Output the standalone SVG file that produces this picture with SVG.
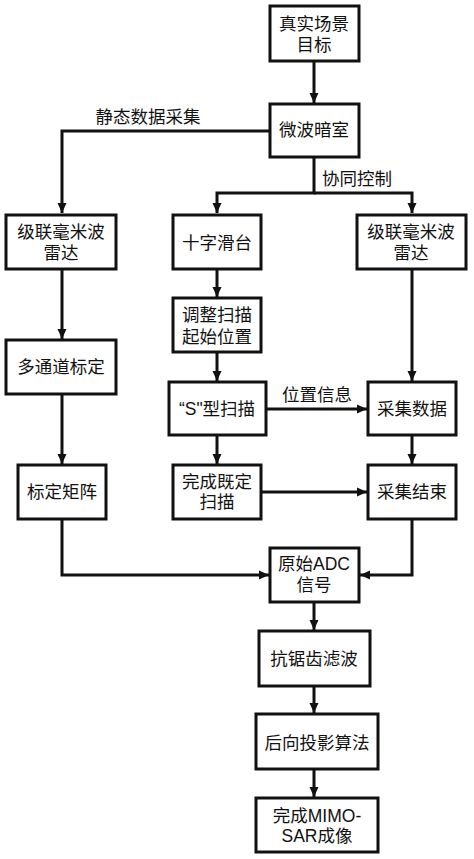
<svg xmlns="http://www.w3.org/2000/svg" width="474" height="859" viewBox="0 0 474 859">
<style>
.box{fill:#fff;stroke:#111;stroke-width:3}
.t{font-family:"Liberation Sans","Noto Sans CJK SC",sans-serif;font-size:17.5px;fill:#111;text-anchor:middle;dominant-baseline:central}
.c{fill:none;stroke:#111;stroke-width:3}
</style>
<defs>
<marker id="ah" markerUnits="userSpaceOnUse" markerWidth="10" markerHeight="10" viewBox="0 0 10 10" refX="10" refY="5" orient="auto">
<path d="M0,0.5 L10,5 L0,9.5 Z" fill="#111"/>
</marker>
</defs>
<rect width="474" height="859" fill="#fff"/>
<g id="connectors">
<path class="c" d="M314,62 V103" marker-end="url(#ah)"/>
<path class="c" d="M269,131 H62 V213" marker-end="url(#ah)"/>
<path class="c" d="M314,158 V193 H217 V213" marker-end="url(#ah)"/>
<path class="c" d="M314,193 H412 V213" marker-end="url(#ah)"/>
<path class="c" d="M62,270 V339" marker-end="url(#ah)"/>
<path class="c" d="M217,270 V297" marker-end="url(#ah)"/>
<path class="c" d="M412,270 V381" marker-end="url(#ah)"/>
<path class="c" d="M217,353 V381" marker-end="url(#ah)"/>
<path class="c" d="M62,395 V464" marker-end="url(#ah)"/>
<path class="c" d="M267,409 H367" marker-end="url(#ah)"/>
<path class="c" d="M217,436 V464" marker-end="url(#ah)"/>
<path class="c" d="M412,436 V464" marker-end="url(#ah)"/>
<path class="c" d="M262,492 H367" marker-end="url(#ah)"/>
<path class="c" d="M62,520 V575 H269" marker-end="url(#ah)"/>
<path class="c" d="M412,520 V575 H360" marker-end="url(#ah)"/>
<path class="c" d="M314,603 V630" marker-end="url(#ah)"/>
<path class="c" d="M314,687 V713" marker-end="url(#ah)"/>
<path class="c" d="M314,770 V797" marker-end="url(#ah)"/>
<text class="t" x="148" y="117">静态数据采集</text>
<text class="t" x="357" y="179">协同控制</text>
<text class="t" x="317" y="395">位置信息</text>
</g>
<g id="n1"><rect class="box" x="270" y="6" width="89" height="55"/><text class="t" x="314" y="24">真实场景</text><text class="t" x="314" y="45">目标</text></g>
<g id="n2"><rect class="box" x="270" y="104" width="89" height="53"/><text class="t" x="314" y="130">微波暗室</text></g>
<g id="n3"><rect class="box" x="6" y="215" width="110" height="54"/><text class="t" x="61" y="232">级联毫米波</text><text class="t" x="61" y="253">雷达</text></g>
<g id="n4"><rect class="box" x="173" y="215" width="88" height="54"/><text class="t" x="217" y="243">十字滑台</text></g>
<g id="n5"><rect class="box" x="357" y="215" width="109" height="54"/><text class="t" x="411" y="232">级联毫米波</text><text class="t" x="411" y="253">雷达</text></g>
<g id="n6"><rect class="box" x="173" y="298" width="88" height="54"/><text class="t" x="217" y="315">调整扫描</text><text class="t" x="217" y="337">起始位置</text></g>
<g id="n7"><rect class="box" x="6" y="340" width="110" height="54"/><text class="t" x="61" y="367">多通道标定</text></g>
<g id="n8"><rect class="box" x="169" y="382" width="97" height="53"/><text class="t" x="217" y="409">“S"型扫描</text></g>
<g id="n9"><rect class="box" x="368" y="382" width="88" height="53"/><text class="t" x="412" y="409">采集数据</text></g>
<g id="n10"><rect class="box" x="18" y="465" width="88" height="54"/><text class="t" x="62" y="492">标定矩阵</text></g>
<g id="n11"><rect class="box" x="173" y="465" width="88" height="54"/><text class="t" x="217" y="482">完成既定</text><text class="t" x="217" y="502">扫描</text></g>
<g id="n12"><rect class="box" x="368" y="465" width="88" height="54"/><text class="t" x="412" y="492">采集结束</text></g>
<g id="n13"><rect class="box" x="270" y="548" width="89" height="54"/><text class="t" x="314" y="564">原始ADC</text><text class="t" x="314" y="585">信号</text></g>
<g id="n14"><rect class="box" x="259" y="631" width="111" height="55"/><text class="t" x="314" y="659">抗锯齿滤波</text></g>
<g id="n15"><rect class="box" x="256" y="714" width="122" height="55"/><text class="t" x="317" y="743">后向投影算法</text></g>
<g id="n16"><rect class="box" x="256" y="798" width="122" height="54"/><text class="t" x="317" y="816">完成MIMO-</text><text class="t" x="317" y="836">SAR成像</text></g>
</svg>
